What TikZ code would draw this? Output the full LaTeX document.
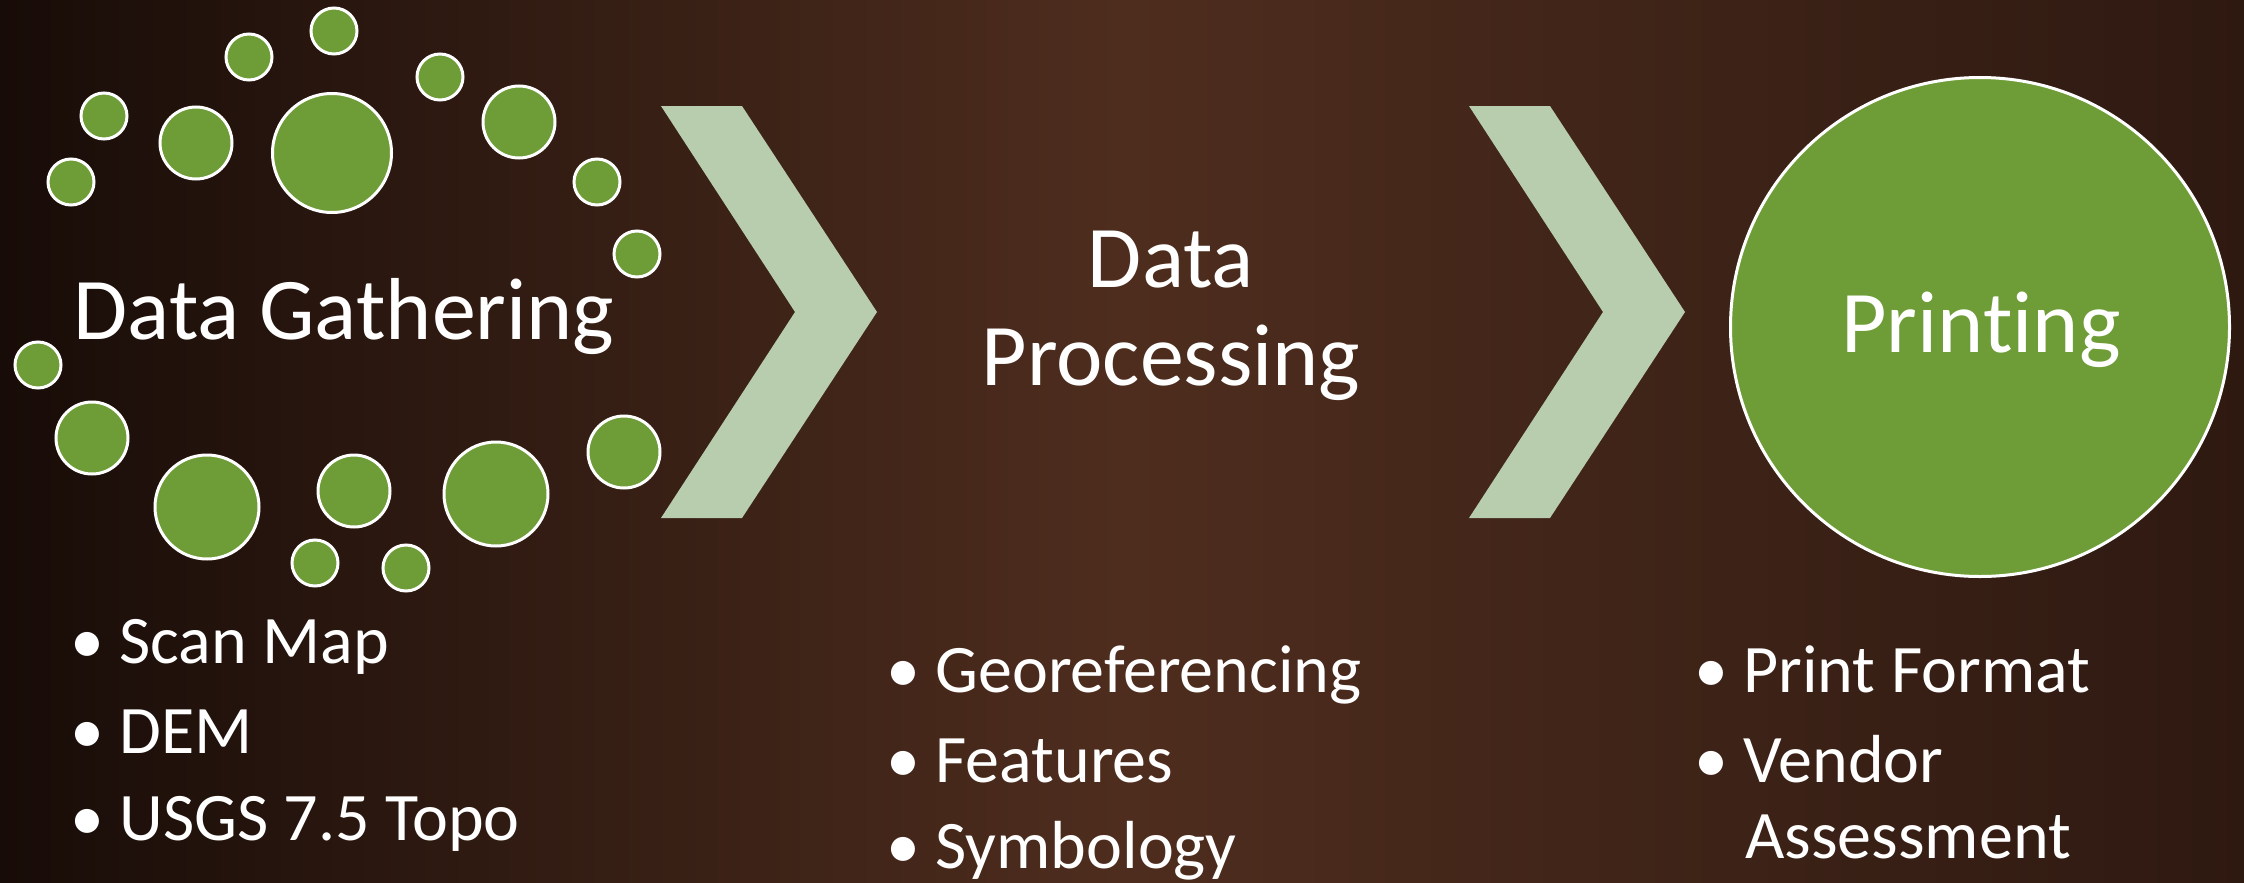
\documentclass[tikz,border=0pt]{standalone}
\usepackage{fontspec}
\setmainfont{Carlito}[Ligatures=NoCommon]
\usetikzlibrary{positioning}

\definecolor{wooddark}{HTML}{180C08}
\definecolor{woodmid}{HTML}{4E2D1E}
\definecolor{woodright}{HTML}{2E1911}
\definecolor{leafgreen}{HTML}{6E9D37}
\definecolor{sage}{HTML}{B8CCAE}

\tikzset{
  dot/.style={circle, fill=leafgreen, draw=white, line width=3pt, inner sep=0pt},
  dotS/.style={dot, minimum size=46pt},
  dotM/.style={dot, minimum size=72pt},
  dotL/.style={dot, minimum size=104pt},
  dotXL/.style={dot, minimum size=119pt},
  title/.style={text=white, font=\fontsize{88}{98}\selectfont, inner sep=0pt, align=center},
  item/.style={text=white, font=\fontsize{68}{76}\selectfont, inner sep=0pt, anchor=base west},
  chevron/.style={fill=sage}
}

\begin{document}
\begin{tikzpicture}[x=1pt, y=-1pt]

    \useasboundingbox (0,0) rectangle (2244,883);

    % wood background
    \shade[left color=wooddark, right color=woodright, middle color=woodmid]
        (0,0) rectangle (2244,883);

    % data gathering: ring of dots
    \node[dotS]  (d1)  at (334,31)  {};
    \node[dotS]  (d2)  at (249,57)  {};
    \node[dotS]  (d3)  at (440,77)  {};
    \node[dotS]  (d4)  at (104,116) {};
    \node[dotM]  (d5)  at (196,143) {};
    \node[dotXL] (d6)  at (332,153) {};
    \node[dotM]  (d7)  at (519,122) {};
    \node[dotS]  (d8)  at (71,182)  {};
    \node[dotS]  (d9)  at (597,182) {};
    \node[dotS]  (d10) at (637,254) {};
    \node[dotS]  (d11) at (38,365)  {};
    \node[dotM]  (d12) at (92,438)  {};
    \node[dotL]  (d13) at (207,507) {};
    \node[dotM]  (d14) at (354,491) {};
    \node[dotL]  (d15) at (496,494) {};
    \node[dotM]  (d16) at (624,452) {};
    \node[dotS]  (d17) at (315,563) {};
    \node[dotS]  (d18) at (406,568) {};
    \node[title, anchor=base] (gather) at (344,339) {Data Gathering};

    % first chevron
    \fill[chevron] (661,106) -- (742,106) -- (877,312) -- (742,518)
        -- (661,518) -- (795,312) -- cycle;

    % data processing (base = last line)
    \node[title, anchor=base] (process) at (1171,385) {Data\\Processing};

    % second chevron
    \fill[chevron] (1469,106) -- (1550,106) -- (1685,312) -- (1550,518)
        -- (1469,518) -- (1603,312) -- cycle;

    % printing
    \node[dot, minimum size=499pt] (print) at (1980,327) {};
    \node[title, anchor=base] (printtxt) at (1981,352) {Printing};

    % bullet lists
    \node[item] (scan)  at (70,663) {• Scan Map};
    \node[item] (dem)   at (70,753) {• DEM};
    \node[item] (usgs)  at (70,840) {• USGS 7.5 Topo};

    \node[item] (geo)   at (886,692) {• Georeferencing};
    \node[item] (feat)  at (886,782) {• Features};
    \node[item] (symb)  at (886,868) {• Symbology};

    \node[item] (fmt)    at (1694,692) {• Print Format};
    \node[item] (vendor) at (1694,782) {• Vendor};
    \node[item] (assess) at (1745,858) {Assessment};

\end{tikzpicture}
\end{document}
